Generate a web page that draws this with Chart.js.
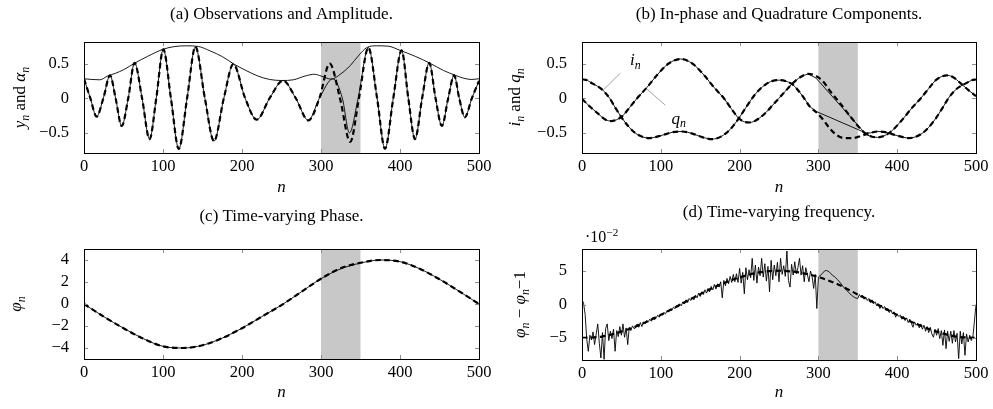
<!DOCTYPE html>
<html>
<head>
<meta charset="utf-8">
<script src="https://cdn.jsdelivr.net/npm/chart.js@4.4.1/dist/chart.umd.min.js"></script>
<style>
  body { margin: 0; background: #fff; }
  #fig { position: relative; width: 993px; height: 409px; }
  .panel { position: absolute; }
</style>
</head>
<body>
<div id="fig">
  <div class="panel" style="left:0;top:0;width:496px;height:200px"><canvas id="chartA"></canvas></div>
  <div class="panel" style="left:496px;top:0;width:497px;height:200px"><canvas id="chartB"></canvas></div>
  <div class="panel" style="left:0;top:200px;width:496px;height:209px"><canvas id="chartC"></canvas></div>
  <div class="panel" style="left:496px;top:200px;width:497px;height:209px"><canvas id="chartD"></canvas></div>
</div>
<script>
const SERIF = '"Liberation Serif", "DejaVu Serif", serif';

// shared x axis and the window with missing observations
const nTicks = [0, 100, 200, 300, 400, 500];
const gapStart = 300;
const gapEnd = 350;

// (a) observations y_n (extrema and zero crossings) and amplitude alpha_n
const yBeforeN = [0, 8, 16, 24.5, 33, 40, 47.7, 56, 64, 73.5, 83, 91.5, 100.4, 110, 120, 130.5, 141, 153, 164.5, 177, 189, 204, 218.6, 235, 252, 268, 284, 298];
const yBeforeV = [0.28, 0, -0.265, 0, 0.33, 0, -0.40, 0, 0.51, 0, -0.59, 0, 0.705, 0, -0.73, 0, 0.74, 0, -0.62, 0, 0.49, 0, -0.31, 0, 0.255, 0, -0.32, 0];
const yGapObsN = [315, 327, 336, 347];
const yGapObsV = [0.28, 0, -0.50, 0];
const yGapEstN = [311, 324, 337, 348];
const yGapEstV = [0.50, 0, -0.63, 0];
const yAfterN = [360, 371, 381, 391.5, 402, 410.5, 419, 428, 437, 445, 453, 461, 468.5, 475, 482, 491, 500];
const yAfterV = [0.73, 0, -0.73, 0, 0.69, 0, -0.59, 0, 0.51, 0, -0.40, 0, 0.33, 0, -0.275, 0, 0.25];
const alphaN = [0, 10, 20, 30, 40, 50, 65, 80, 100, 115, 130, 145, 160, 175, 190, 205, 220, 235, 250, 265, 280, 292, 300, 313, 325, 337, 348, 358, 370, 385, 400, 420, 437, 455, 470, 480, 490, 500];
const alphaV = [0.28, 0.27, 0.265, 0.32, 0.36, 0.41, 0.51, 0.60, 0.705, 0.745, 0.755, 0.745, 0.68, 0.60, 0.49, 0.40, 0.32, 0.27, 0.255, 0.265, 0.32, 0.345, 0.32, 0.275, 0.35, 0.47, 0.62, 0.73, 0.755, 0.75, 0.69, 0.60, 0.51, 0.40, 0.33, 0.29, 0.27, 0.28];
const yTicksA = [-0.5, 0, 0.5];

// (b) in-phase i_n and quadrature q_n
const iBeforeN = [0, 5, 12, 20, 26, 35, 43, 51, 60, 70, 85, 100, 115, 127, 140, 152, 165, 177, 188, 199, 210, 220, 232, 242, 251, 260, 268, 280, 289];
const iBeforeV = [0.27, 0.265, 0.22, 0.17, 0.12, 0.0, -0.15, -0.29, -0.42, -0.52, -0.575, -0.54, -0.49, -0.48, -0.51, -0.56, -0.59, -0.55, -0.45, -0.29, -0.1, 0.06, 0.19, 0.25, 0.26, 0.24, 0.19, 0.03, -0.12];
const iGapObsN = [289, 297, 360];
const iGapObsV = [-0.12, -0.19, -0.5];
const iGapEstN = [297, 306, 314, 323, 333, 344, 355];
const iGapEstV = [-0.2, -0.31, -0.43, -0.53, -0.575, -0.575, -0.54];
const iAfterN = [366, 375, 385, 400, 415, 430, 440, 449, 457, 465, 474, 480, 488, 495, 500];
const iAfterV = [-0.5, -0.48, -0.49, -0.54, -0.575, -0.52, -0.42, -0.29, -0.15, 0.0, 0.12, 0.17, 0.22, 0.26, 0.27];
const qBeforeN = [0, 10, 20, 30, 37, 44, 51, 60, 70, 82, 95, 110, 125, 140, 155, 168, 180, 190, 199, 206, 213, 222, 234, 242, 250, 258, 266, 278, 287];
const qBeforeV = [-0.01, -0.12, -0.22, -0.31, -0.33, -0.31, -0.26, -0.14, 0.0, 0.15, 0.33, 0.5, 0.565, 0.5, 0.33, 0.15, 0.0, -0.16, -0.29, -0.34, -0.35, -0.31, -0.2, -0.1, 0.0, 0.1, 0.2, 0.31, 0.35];
const qGapObsN = [287, 297, 361];
const qGapObsV = [0.35, 0.29, -0.53];
const qGapEstN = [297, 306, 315, 328, 341, 354, 362, 368];
const qGapEstV = [0.32, 0.24, 0.1, -0.08, -0.27, -0.45, -0.53, -0.555];
const qAfterN = [375, 390, 405, 418, 430, 440, 449, 456, 463, 470, 480, 490, 500];
const qAfterV = [-0.565, -0.5, -0.33, -0.15, 0.0, 0.14, 0.26, 0.31, 0.33, 0.31, 0.22, 0.12, 0.03];
const yTicksB = [-0.5, 0, 0.5];
// curve labels with pin lines
const pinText = ['i', 'q'];
const pinLabelN = [67.7, 122.7];
const pinLabelV = [0.55, -0.29];
const pinFromN = [48.6, 105.7];
const pinFromV = [0.36, -0.1];
const pinToN = [26.2, 82.5];
const pinToV = [0.11, 0.13];

// (c) time-varying phase
const phiN = [0, 25, 50, 75, 100, 125, 150, 175, 200, 225, 250, 275, 300, 325, 350, 375, 400, 425, 450, 475, 500];
const phiObsV = [0, -1.15, -2.2, -3.15, -3.85, -4.0, -3.75, -3.1, -2.2, -1.15, -0.1, 1.1, 2.3, 3.2, 3.72, 4.0, 3.85, 3.2, 2.25, 1.15, 0];
const phiEstV = [0, -1.15, -2.2, -3.15, -3.85, -4.0, -3.75, -3.1, -2.2, -1.15, -0.1, 1.1, 2.3, 3.25, 3.75, 4.0, 3.85, 3.2, 2.25, 1.15, 0];
const yTicksC = [-4, -2, 0, 2, 4];

// (d) phase difference, in units of 1e-2, one value every dStep samples
const dStep = 2;
const dObsV = [
  0.7, 0.2, -1.5, -5.2, -7.0, -4.6, -5.3, -4.1, -6.0, -4.4,
  -2.9, -5.8, -8.0, -4.2, -8.2, -3.6, -2.9, -5.4, -4.0, -5.1,
  -3.7, -7.0, -3.9, -4.8, -3.3, -4.6, -2.9, -4.9, -3.5, -6.0,
  -3.4, -3.9, -3.2, -3.6, -3.5, -2.9, -3.4, -2.7, -3.3, -2.6,
  -2.9, -2.4, -2.6, -2.2, -2.5, -1.9, -2.3, -2.0, -1.6, -1.9,
  -1.4, -1.6, -1.2, -1.4, -0.9, -1.1, -0.7, -0.9, -0.4, -0.6,
  -0.2, -0.4, 0.1, -0.2, 0.4, 0.1, 0.7, 0.3, 0.9, 0.6,
  1.1, 0.7, 1.4, 1.0, 1.7, 1.2, 1.9, 1.5, 2.2, 1.7,
  2.4, 1.9, 2.7, 2.2, 3.0, 2.3, 3.1, 2.6, 3.4, 1.0,
  3.6, 2.8, 3.9, 3.1, 4.2, 3.3, 4.5, 3.4, 4.6, 3.3,
  5.4, 3.2, 4.8, 1.6, 5.5, 3.7, 5.2, 4.0, 6.9, 3.6,
  5.9, 3.2, 5.6, 4.3, 6.9, 4.1, 6.1, 3.5, 5.7, 1.9,
  6.6, 3.7, 5.9, 4.3, 6.3, 3.4, 6.9, 4.5, 5.8, 4.2,
  8.0, 3.6, 2.6, 6.0, 4.4, 6.4, 4.6, 5.5, 6.9, 4.4,
  5.8, 3.4, 5.5, 4.5, 3.4, 5.0, 4.2, 2.4, 4.5, -0.6,
  4.1, 4.3, 4.5, 4.8, 5.0, 5.1, 5.0, 4.85, 4.6, 4.35,
  4.2, 4.0, 3.75, 3.5, 3.2, 2.9, 2.6, 2.35, 2.1, 1.85,
  1.6, 1.4, 1.2, 1.05, 0.95, 0.9, 1.5, 1.1, 1.4, 0.8,
  1.1, 0.6, 0.9, 0.3, 0.7, 0.1, 0.4, -0.2, 0.1, -0.6,
  -0.1, -0.6, -0.3, -0.9, -0.6, -1.2, -0.8, -1.4, -1.1, -1.9,
  -1.4, -1.8, -1.6, -2.2, -1.8, -2.4, -2.0, -2.7, -2.2, -2.8,
  -3.4, -2.6, -3.1, -2.8, -3.5, -2.9, -3.7, -3.1, -4.0, -3.3,
  -4.2, -3.4, -4.4, -4.9, -3.7, -4.6, -3.6, -5.1, -3.9, -6.1,
  -3.8, -6.6, -4.0, -5.5, -4.0, -5.8, -3.9, -5.6, -4.3, -8.1,
  -4.0, -5.9, -4.2, -7.6, -4.4, -5.6, -4.6, -5.4, -4.9, -2.5,
  0.0
];
const dEstN = [0, 25, 50, 75, 100, 125, 150, 175, 200, 225, 250, 275, 300, 325, 350, 375, 400, 425, 450, 475, 500];
const dEstV = [-5.0, -4.8, -4.05, -2.95, -1.55, 0.0, 1.55, 2.95, 4.05, 4.8, 5.05, 4.8, 4.1, 3.0, 1.5, 0.0, -1.55, -2.95, -4.05, -4.8, -5.0];
const yTicksD = [-5, 0, 5];

const TICK_SIZE = 16.5;
const TITLE_SIZE = 17;
const LABEL_SIZE = 17;

const pts = (ns, vs) => ns.map((n, k) => ({ x: n, y: vs[k] }));
const fmt = v => (v < 0 ? '\u2212' + Math.abs(v) : String(v));

function solid(data, smooth = true) {
  return {
    data, borderColor: '#000', borderWidth: 0.9, pointRadius: 0, fill: false,
    cubicInterpolationMode: smooth ? 'monotone' : 'default', tension: 0, order: 1
  };
}
function dashed(data, order = 0) {
  return {
    data, borderColor: '#000', borderWidth: 2.2, borderDash: [5.5, 3.5], pointRadius: 0, fill: false,
    cubicInterpolationMode: 'monotone', order
  };
}

// text with italic letters and subscripts/superscripts
function drawRich(ctx, parts, x, y, size, rotate, align) {
  ctx.save();
  ctx.translate(x, y);
  if (rotate) ctx.rotate(-Math.PI / 2);
  ctx.fillStyle = '#000';
  ctx.textBaseline = 'alphabetic';
  ctx.textAlign = 'left';
  const fonts = parts.map(p => (p.it ? 'italic ' : '') + ((p.sub || p.sup) ? size * 0.7 : size) + 'px ' + SERIF);
  let w = 0;
  const widths = parts.map((p, k) => { ctx.font = fonts[k]; const m = ctx.measureText(p.t).width; w += m; return m; });
  let cx = align === 'left' ? 0 : -w / 2;
  parts.forEach((p, k) => {
    ctx.font = fonts[k];
    const dy = p.sub ? size * 0.22 : p.sup ? -size * 0.4 : 0;
    ctx.fillText(p.t, cx, size * 0.32 + dy);
    cx += widths[k];
  });
  ctx.restore();
}

const figurePlugin = {
  id: 'figure',
  beforeDatasetsDraw(chart) {
    const { ctx, chartArea: a, scales: { x } } = chart;
    const x0 = x.getPixelForValue(gapStart), x1 = x.getPixelForValue(gapEnd);
    ctx.save();
    ctx.fillStyle = '#c8c8c8';
    ctx.fillRect(x0, a.top, x1 - x0, a.bottom - a.top);
    ctx.restore();
  },
  afterDatasetsDraw(chart) {
    const { ctx, chartArea: a, scales: { x, y } } = chart;
    ctx.save();
    ctx.strokeStyle = '#8c8c8c';
    ctx.lineWidth = 1;
    ctx.beginPath();
    x.ticks.forEach(t => {
      const px = Math.round(x.getPixelForValue(t.value)) + 0.5;
      ctx.moveTo(px, a.top); ctx.lineTo(px, a.top + 4);
      ctx.moveTo(px, a.bottom); ctx.lineTo(px, a.bottom - 4);
    });
    y.ticks.forEach(t => {
      const py = Math.round(y.getPixelForValue(t.value)) + 0.5;
      ctx.moveTo(a.left, py); ctx.lineTo(a.left + 4, py);
      ctx.moveTo(a.right, py); ctx.lineTo(a.right - 4, py);
    });
    ctx.stroke();
    ctx.strokeStyle = '#000';
    ctx.strokeRect(Math.round(a.left) + 0.5, Math.round(a.top) + 0.5, Math.round(a.right - a.left), Math.round(a.bottom - a.top));
    ctx.restore();
  },
  afterDraw(chart, args, opts) {
    const { ctx, chartArea: a, scales: { x, y } } = chart;
    if (opts.ylabel) drawRich(ctx, opts.ylabel, a.left - opts.ylabelGap, (a.top + a.bottom) / 2, LABEL_SIZE, true);
    if (opts.pins) {
      ctx.save();
      ctx.strokeStyle = '#8c8c8c';
      ctx.lineWidth = 0.8;
      pinText.forEach((t, k) => {
        ctx.beginPath();
        ctx.moveTo(x.getPixelForValue(pinFromN[k]), y.getPixelForValue(pinFromV[k]));
        ctx.lineTo(x.getPixelForValue(pinToN[k]), y.getPixelForValue(pinToV[k]));
        ctx.stroke();
        drawRich(ctx, [{ t, it: true }, { t: 'n', it: true, sub: true }], x.getPixelForValue(pinLabelN[k]), y.getPixelForValue(pinLabelV[k]), LABEL_SIZE, false);
      });
      ctx.restore();
    }
    if (opts.exponent) {
      drawRich(ctx, [{ t: '\u00b710' }, { t: '\u22122', sup: true }], a.left + 3, a.top - 12, 16, false, 'left');
    }
  }
};

function makeChart(p, datasets, yMin, yMax, yTicks, title, extra) {
  const [L, T, R, B] = p.plot;
  const th = TITLE_SIZE * 1.2;
  const nh = LABEL_SIZE * 1.2;
  return new Chart(document.getElementById(p.id), {
    type: 'line',
    data: { datasets },
    options: {
      animation: false,
      responsive: true,
      maintainAspectRatio: false,
      layout: { padding: { left: 0, top: 0, right: p.left + p.w - R, bottom: 0 } },
      plugins: {
        legend: { display: false },
        tooltip: { enabled: false },
        title: {
          display: true, text: title, fullSize: false, color: '#000',
          font: { family: SERIF, size: TITLE_SIZE, weight: 'normal', lineHeight: 1.2 },
          padding: { top: p.titleY - p.top - th / 2, bottom: T - p.titleY - th / 2 }
        },
        figure: extra
      },
      scales: {
        x: {
          type: 'linear', min: 0, max: 500,
          afterBuildTicks: s => { s.ticks = nTicks.map(v => ({ value: v })); },
          afterFit: s => { s.height = p.top + p.h - B; },
          grid: { display: false }, border: { display: false },
          ticks: { color: '#000', padding: -4, maxRotation: 0, font: { family: SERIF, size: TICK_SIZE } },
          title: {
            display: true, text: 'n', color: '#000',
            font: { family: SERIF, size: LABEL_SIZE, style: 'italic', lineHeight: 1.2 },
            padding: { top: 0, bottom: p.top + p.h - p.xLabelY - nh / 2 }
          }
        },
        y: {
          type: 'linear', min: yMin, max: yMax,
          afterBuildTicks: s => { s.ticks = yTicks.map(v => ({ value: v })); },
          afterFit: s => { s.width = L - p.left; },
          grid: { display: false }, border: { display: false },
          ticks: { color: '#000', padding: 7, callback: v => fmt(v), font: { family: SERIF, size: TICK_SIZE } }
        }
      }
    },
    plugins: [figurePlugin]
  });
}

const panelA = { id: 'chartA', left: 0, top: 0, w: 496, h: 200, plot: [84, 42, 479, 153], titleY: 15, xLabelY: 188 };
const panelB = { id: 'chartB', left: 496, top: 0, w: 497, h: 200, plot: [582, 42, 976, 153], titleY: 15, xLabelY: 188 };
const panelC = { id: 'chartC', left: 0, top: 200, w: 496, h: 209, plot: [84, 249, 479, 359], titleY: 217, xLabelY: 393 };
const panelD = { id: 'chartD', left: 496, top: 200, w: 497, h: 209, plot: [582, 249, 976, 360], titleY: 213, xLabelY: 393 };

// (a)
makeChart(panelA, [
  dashed(pts(yBeforeN.concat(yGapEstN, yAfterN), yBeforeV.concat(yGapEstV, yAfterV))),
  solid(pts(yBeforeN.concat(yGapObsN, yAfterN), yBeforeV.concat(yGapObsV, yAfterV))),
  solid(pts(alphaN, alphaV))
], -0.79, 0.81, yTicksA, '(a) Observations and Amplitude.', {
  ylabel: [{ t: 'y', it: true }, { t: 'n', it: true, sub: true }, { t: ' and ' }, { t: '\u03b1', it: true }, { t: 'n', it: true, sub: true }],
  ylabelGap: 64
});

// (b)
makeChart(panelB, [
  dashed(pts(iBeforeN.concat(iGapEstN, iAfterN), iBeforeV.concat(iGapEstV, iAfterV))),
  dashed(pts(qBeforeN.concat(qGapEstN, qAfterN), qBeforeV.concat(qGapEstV, qAfterV))),
  solid(pts(iBeforeN, iBeforeV)),
  solid(pts(iGapObsN, iGapObsV), false),
  solid(pts(iGapObsN.slice(-1).concat(iAfterN), iGapObsV.slice(-1).concat(iAfterV))),
  solid(pts(qBeforeN, qBeforeV)),
  solid(pts(qGapObsN, qGapObsV), false),
  solid(pts(qGapObsN.slice(-1).concat(qAfterN), qGapObsV.slice(-1).concat(qAfterV)))
], -0.79, 0.81, yTicksB, '(b) In-phase and Quadrature Components.', {
  ylabel: [{ t: 'i', it: true }, { t: 'n', it: true, sub: true }, { t: ' and ' }, { t: 'q', it: true }, { t: 'n', it: true, sub: true }],
  ylabelGap: 67,
  pins: true
});

// (c)
makeChart(panelC, [
  dashed(pts(phiN, phiEstV)),
  solid(pts(phiN, phiObsV))
], -5, 5, yTicksC, '(c) Time-varying Phase.', {
  ylabel: [{ t: '\u03c6', it: true }, { t: 'n', it: true, sub: true }],
  ylabelGap: 68
});

// (d)
makeChart(panelD, [
  solid(pts(dObsV.map((v, k) => k * dStep), dObsV), false),
  dashed(pts(dEstN, dEstV), 2)
], -8.3, 8.3, yTicksD, '(d) Time-varying frequency.', {
  ylabel: [{ t: '\u03c6', it: true }, { t: 'n', it: true, sub: true }, { t: ' \u2212 ' }, { t: '\u03c6', it: true }, { t: 'n', it: true, sub: true }, { t: '\u22121' }],
  ylabelGap: 62,
  exponent: true
});
</script>
</body>
</html>
